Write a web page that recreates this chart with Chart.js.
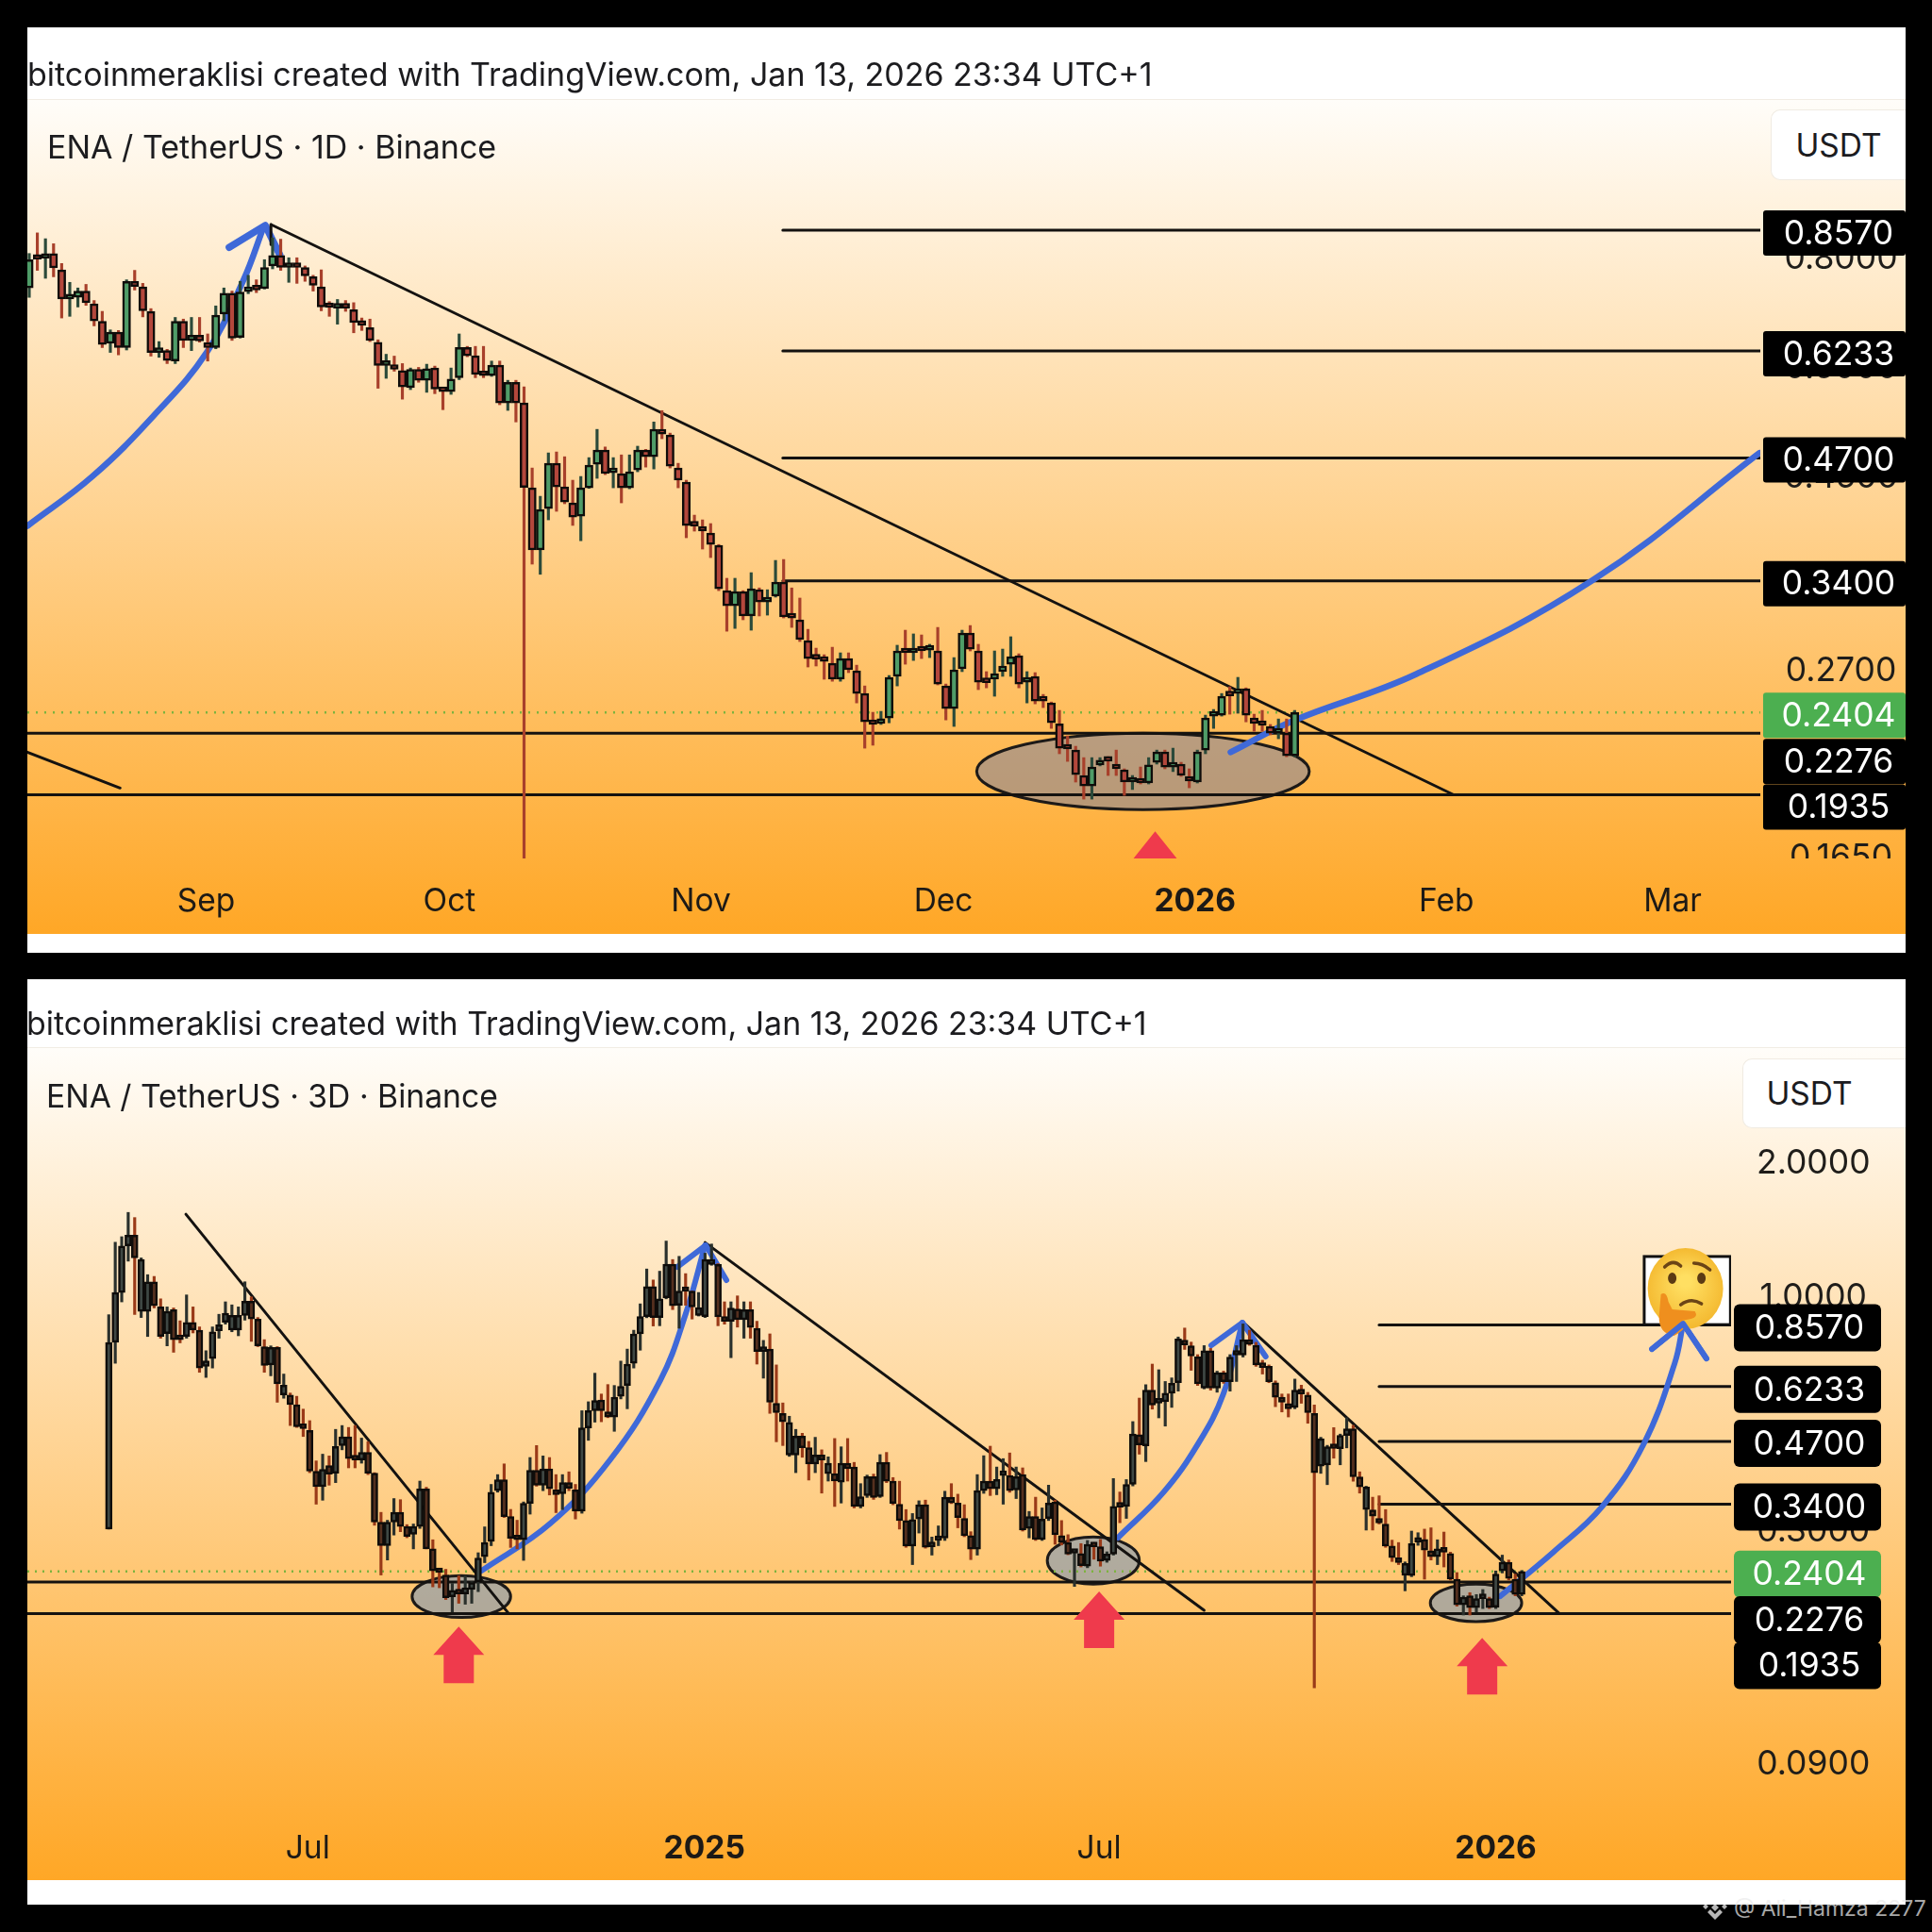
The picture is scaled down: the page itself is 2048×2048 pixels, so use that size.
<!DOCTYPE html>
<html><head><meta charset="utf-8">
<script src="https://cdn.jsdelivr.net/npm/chart.js@4/dist/chart.umd.min.js"></script>
<style>
html,body{margin:0;padding:0;background:#000;width:2048px;height:2048px;overflow:hidden;font-family:Inter,"Noto Sans",sans-serif}
.panel{position:absolute;left:29px;width:1991px;background:#fff}
.grad{position:absolute;left:29px;width:1991px;background:linear-gradient(180deg,#fffdf9 0%,#ffa726 100%);border-top:1px solid #f1ece4;box-sizing:border-box}
canvas{position:absolute;left:29px}
.t{position:absolute;color:#1c1c1f;white-space:nowrap;line-height:1;transform:translateY(-50%)}
.usdt{position:absolute;background:#fff;border:1px solid #f0ebe2;border-radius:10px 0 0 10px;box-sizing:border-box;display:flex;align-items:center;justify-content:center;font-size:33.5px;color:#1c1c1f;border-right:none}
</style></head><body>
<div class="panel" style="top:29px;height:981px"></div>
<div class="grad" style="top:105px;height:885px"></div>
<div class="panel" style="top:1038px;height:981px"></div>
<div class="grad" style="top:1110px;height:883px"></div>
<canvas id="c1" width="1991" height="961" style="top:29px;width:1991px;height:961px"></canvas>
<canvas id="c2" width="1991" height="955" style="top:1038px;width:1991px;height:955px"></canvas>
<div class="t" style="left:29px;top:79px;font-size:34px">bitcoinmeraklisi created with TradingView.com, Jan 13, 2026 23:34 UTC+1</div>
<div class="t" style="left:50px;top:156px;font-size:34px">ENA / TetherUS · 1D · Binance</div>
<div class="usdt" style="left:1877px;top:116px;width:143px;height:75px">USDT</div>
<div class="t" style="left:28px;top:1085px;font-size:33.87px">bitcoinmeraklisi created with TradingView.com, Jan 13, 2026 23:34 UTC+1</div>
<div class="t" style="left:49px;top:1162px;font-size:33.7px">ENA / TetherUS · 3D · Binance</div>
<div class="usdt" style="left:1847px;top:1122px;width:173px;height:74px;padding-right:32px">USDT</div>
<svg style="position:absolute;left:1804px;top:2008px" width="28" height="28" viewBox="0 0 28 28"><g fill="rgba(255,255,255,.72)"><path d="M14 1l5 5-5 5-5-5z" fill="none" stroke="rgba(255,255,255,.45)"/><path d="M14 10l4 4-4 4-4-4zM4 10l3 3-3 3-3-3zM24 10l3 3-3 3-3-3zM14 27l-8-8 3-3 5 5 5-5 3 3z"/></g></svg>
<div class="t" style="left:1838px;top:2023px;font-size:23px;color:rgba(235,235,235,.72)">@ Ali_Hamza 2277</div>
<script>
// ---- 1D chart: [open, high, low, close]
const dailyCandles=[
[.736,.806,.718,.793],[.797,.851,.771,.794],[.796,.838,.755,.804],[.806,.827,.758,.776],[.772,.785,.680,.715],[.715,.747,.683,.716],[.718,.736,.700,.730],[.730,.743,.703,.708],[.706,.712,.666,.675],[.674,.692,.629,.634],
[.636,.659,.621,.655],[.655,.658,.617,.629],[.629,.752,.625,.749],[.749,.771,.732,.739],[.738,.745,.682,.693],[.692,.697,.615,.621],[.621,.639,.613,.624],[.624,.626,.603,.608],[.607,.681,.603,.674],[.674,.678,.629,.641],
[.641,.681,.624,.650],[.650,.681,.638,.640],[.636,.652,.607,.629],[.629,.702,.627,.685],[.687,.736,.675,.726],[.726,.730,.641,.645],[.646,.749,.645,.728],[.729,.761,.725,.731],[.734,.752,.727,.732],[.735,.793,.734,.777],
[.780,.840,.774,.802],[.802,.837,.771,.777],[.777,.797,.747,.780],[.780,.797,.745,.777],[.777,.780,.749,.760],[.758,.761,.730,.741],[.738,.772,.693,.700],[.701,.710,.683,.699],[.698,.714,.669,.704],[.704,.712,.692,.698],
[.695,.708,.654,.672],[.669,.680,.658,.667],[.663,.678,.639,.641],[.638,.642,.565,.600],[.600,.618,.580,.602],[.600,.615,.591,.594],[.592,.603,.549,.567],[.566,.596,.563,.594],[.594,.597,.574,.577],[.577,.602,.559,.595],
[.596,.599,.557,.564],[.561,.565,.534,.560],[.560,.596,.556,.579],[.581,.652,.578,.629],[.629,.631,.614,.6155],[.6155,.631,.581,.586],[.586,.631,.581,.584],[.584,.607,.583,.6005],[.6005,.607,.541,.5436],[.5436,.577,.533,.574],
[.574,.577,.517,.5436],[.5436,.567,.15,.435],[.4346,.4579,.3554,.3689],[.3689,.425,.346,.4105],[.4115,.4765,.3994,.4637],[.4637,.4777,.4085,.4357],[.4357,.4717,.4167,.4187],[.4177,.4434,.3936,.4024],[.4034,.4478,.378,.4346],[.4346,.4706,.434,.4613],
[.4625,.507,.4456,.48],[.48,.484,.45,.4512],[.4523,.4706,.4346,.4534],[.4512,.474,.4177,.4346],[.4346,.474,.4335,.4534],[.4556,.485,.4534,.48],[.48,.481,.459,.4717],[.4717,.517,.4567,.507],[.507,.5327,.4946,.5008],[.4995,.502,.4579,.4602],
[.4579,.4636,.4346,.4434],[.4412,.4434,.381,.3935],[.3935,.4044,.3877,.393],[.3906,.3994,.3698,.3877],[.3858,.3955,.3616,.3743],[.3734,.3743,.3314,.333],[.3314,.3424,.2978,.3185],[.3185,.3424,.30,.3306],[.3306,.3314,.3069,.31],[.31,.3475,.2986,.333],
[.3322,.3338,.31,.3217],[.3217,.3322,.3107,.325],[.3266,.3589,.3258,.3389],[.3389,.3598,.3084,.3092],[.3092,.3338,.3008,.3084],[.3069,.325,.2898,.2913],[.2905,.2993,.271,.2771],[.2771,.2848,.2717,.2767],[.2757,.2799,.2624,.275],[.2737,.2855,.261,.2624],
[.2624,.2813,.261,.2771],[.2771,.2813,.267,.269],[.2683,.2723,.2465,.2527],[.2527,.2578,.2188,.2345],[.2345,.2405,.2205,.2329],[.2335,.2411,.2329,.2357],[.2369,.265,.2339,.2637],[.2644,.287,.2578,.2827],[.2827,.2986,.273,.2813],[.2813,.2957,.2757,.2834],
[.2841,.2949,.2771,.2827],[.2834,.2877,.2778,.2838],[.2827,.3008,.2585,.2591],[.2578,.2591,.2357,.2429],[.2429,.2778,.2317,.269],[.2697,.2986,.2677,.2964],[.2964,.3023,.2827,.2841],[.2827,.2877,.2553,.2604],[.2604,.2677,.2565,.26],[.2624,.2827,.2509,.2663],
[.2677,.2841,.2644,.2717],[.273,.2935,.2644,.2785],[.2792,.2806,.2565,.2591],[.2604,.2677,.2465,.2637],[.2644,.267,.2459,.2477],[.2483,.2521,.2435,.2477],[.2465,.2471,.2305,.2339],[.2333,.2417,.2156,.2188],[.2188,.226,.2113,.2183],[.2177,.2199,.2001,.2041],
[.2036,.2134,.1913,.1981],[.1981,.2134,.1913,.2082],[.2093,.2134,.2088,.2119],[.2119,.214,.2036,.2114],[.2098,.2177,.2036,.2072],[.2067,.2072,.1932,.2001],[.2001,.2036,.1962,.2006],[.2001,.2082,.1991,.1996],[.1996,.2134,.1991,.2093],[.2108,.2177,.2098,.2166],
[.2166,.2177,.2072,.2082],[.2082,.2188,.2057,.2088],[.2098,.2108,.2031,.2036],[.2031,.2072,.1971,.2006],[.2001,.2177,.1996,.2166],[.2177,.2387,.2156,.2369],[.2381,.2423,.2305,.2393],[.2387,.2527,.2381,.2509],[.2515,.2572,.2393,.2512],[.2527,.2637,.2399,.2559],
[.2559,.2565,.2345,.2387],[.2369,.2393,.2288,.2335],[.2329,.2417,.2288,.2323],[.2317,.2329,.2266,.2277],[.2277,.2363,.2243,.2283],[.2277,.2363,.2139,.2145],[.2145,.2417,.2139,.2404]];
// ---- 3D chart: [open, high, low, close]
const threeDayCandles=[
[.299,.903,.299,.783],[.783,1.312,.703,1.0127],[1.0127,1.35,.9646,1.287],[1.287,1.53,1.19,1.36],[1.36,1.49,.904,1.21],[.9188,1.21,.89,1.20],[.9188,1.11,.807,1.07],[1.07,1.10,.935,.945],[.94,.98,.80,.807],[.8195,.94,.769,.9188],
[.927,.935,.744,.794],[.807,.875,.781,.794],[.807,1.0,.80,.868],[.868,.94,.822,.834],[.834,.848,.671,.686],[.692,.75,.6535,.712],[.7204,.848,.686,.827],[.831,.905,.80,.857],[.868,.965,.86,.91],[.834,.95,.827,.90],
[.834,.94,.81,.90],[.90,1.07,.878,.968],[.968,.99,.787,.883],[.883,.89,.766,.769],[.766,.794,.671,.695],[.697,.769,.659,.763],[.763,.766,.575,.632],[.597,.665,.587,.628],[.597,.603,.51,.568],[.568,.593,.505,.507],
[.507,.555,.482,.502],[.4975,.523,.40,.403],[.403,.425,.34,.372],[.372,.44,.347,.407],[.415,.436,.375,.397],[.399,.50,.38,.458],[.46,.51,.45,.481],[.481,.505,.41,.43],[.43,.51,.41,.427],[.427,.478,.42,.444],
[.444,.469,.396,.399],[.399,.40,.305,.31],[.31,.326,.236,.2745],[.2745,.313,.255,.31],[.31,.35,.29,.326],[.326,.348,.295,.303],[.303,.306,.286,.288],[.291,.307,.27,.303],[.303,.383,.30,.368],[.368,.371,.27,.27],
[.27,.283,.222,.241],[.24,.244,.221,.239],[.236,.243,.208,.21],[.211,.226,.195,.218],[.218,.235,.204,.214],[.214,.235,.203,.221],[.219,.228,.204,.227],[.2278,.2647,.2166,.2576],[.2593,.3025,.2515,.279],[.2806,.3765,.2745,.3617],
[.3645,.396,.3617,.3858],[.3858,.4185,.3175,.319],[.319,.331,.272,.285],[.286,.313,.27,.283],[.283,.344,.2545,.3415],[.3415,.4325,.323,.405],[.405,.46,.373,.375],[.375,.436,.3645,.408],[.408,.4325,.3565,.368],[.366,.396,.3255,.357],
[.359,.396,.3307,.38],[.38,.4017,.3645,.369],[.366,.3765,.315,.328],[.328,.5505,.3245,.504],[.504,.5765,.4725,.5505],[.5505,.668,.519,.5805],[.582,.60,.52,.5505],[.5475,.63,.531,.533],[.533,.627,.495,.59],[.5929,.711,.585,.6245],
[.627,.7563,.556,.70],[.703,.8336,.686,.818],[.818,.955,.752,.894],[.894,1.143,.889,1.044],[1.044,1.08,.852,.89],[.89,1.13,.853,.98],[.985,1.32,.98,1.172],[1.172,1.2,.927,.945],[.948,1.22,.842,1.02],[1.026,1.116,.948,1.018],
[1.02,1.02,.883,.94],[.90,1.0127,.897,.937],[.894,1.24,.89,1.2],[1.17,1.30,1.165,1.2],[1.17,1.175,.853,.893],[.893,.965,.86,.873],[.873,.965,.7235,.934],[.93,.995,.847,.88],[.88,.965,.80,.927],[.927,.965,.80,.846],
[.842,.873,.70,.747],[.747,.791,.651,.7563],[.7563,.818,.543,.575],[.572,.697,.469,.545],[.543,.573,.46,.52],[.438,.535,.435,.518],[.438,.50,.40,.483],[.483,.49,.433,.455],[.455,.47,.385,.418],[.418,.48,.40,.438],
[.438,.45,.36,.427],[.398,.434,.383,.42],[.398,.477,.336,.383],[.381,.457,.342,.42],[.42,.477,.383,.408],[.4118,.4218,.3335,.336],[.336,.378,.3335,.3535],[.3555,.395,.352,.392],[.392,.397,.3485,.352],[.3535,.439,.352,.4218],
[.4218,.444,.38,.3827],[.3827,.39,.339,.3415],[.34,.3827,.299,.3125],[.3125,.3307,.2722,.274],[.274,.324,.249,.314],[.315,.346,.293,.339],[.339,.3472,.271,.2722],[.273,.287,.2615,.279],[.282,.304,.2745,.2855],[.2855,.3635,.282,.3525],
[.3525,.378,.341,.342],[.342,.358,.301,.3175],[.316,.339,.2875,.289],[.289,.295,.2555,.2695],[.2695,.396,.2615,.3645],[.3645,.4365,.3595,.3827],[.3827,.4585,.3555,.368],[.368,.4118,.357,.386],[.394,.43,.34,.396],[.394,.4428,.3615,.3645],
[.366,.4118,.35,.392],[.396,.41,.296,.2975],[.30,.3275,.2858,.319],[.319,.3525,.282,.2835],[.2835,.3335,.282,.315],[.316,.375,.3125,.342],[.344,.3472,.2765,.2905],[.289,.3125,.2755,.279],[.279,.2905,.262,.263],[.264,.268,.2225,.2645],
[.2635,.2775,.246,.2478],[.247,.282,.245,.2765],[.2755,.279,.256,.273],[.273,.2835,.247,.2535],[.2545,.266,.252,.263],[.263,.388,.2615,.336],[.337,.362,.309,.335],[.336,.386,.316,.3765],[.3765,.5205,.3735,.4881],[.4865,.5875,.44,.4615],
[.459,.6295,.4235,.6125],[.6125,.70,.555,.5665],[.5725,.68,.5305,.5745],[.5765,.64,.5085,.6025],[.6025,.652,.56,.6345],[.6365,.805,.609,.7965],[.79,.843,.755,.773],[.769,.784,.678,.73],[.727,.735,.627,.632],[.6185,.77,.616,.75],
[.75,.759,.612,.6185],[.6185,.675,.6055,.6695],[.6695,.675,.634,.639],[.639,.735,.609,.726],[.733,.77,.64,.75],[.733,.861,.726,.794],[.794,.8336,.771,.775],[.771,.783,.692,.697],[.695,.714,.665,.688],[.692,.697,.636,.639],
[.636,.642,.562,.59],[.59,.60,.547,.575],[.571,.60,.533,.556],[.56,.648,.556,.612],[.612,.628,.572,.60],[.597,.605,.516,.545],[.5425,.567,.132,.40],[.4135,.48,.3985,.4763],[.4163,.4605,.376,.4575],[.455,.5045,.431,.453],
[.4525,.488,.4165,.4845],[.4845,.531,.4545,.5015],[.5015,.5105,.3827,.3915],[.3915,.4017,.36,.3715],[.3307,.373,.2975,.3715],[.33,.3525,.2975,.3195],[.316,.355,.307,.3085],[.307,.3307,.2722,.274],[.274,.2825,.253,.258],[.258,.279,.249,.2515],
[.2355,.2525,.2175,.2505],[.2352,.296,.234,.2775],[.2795,.2935,.275,.2835],[.2835,.299,.231,.2685],[.2675,.301,.255,.2593],[.2593,.283,.249,.27],[.27,.2945,.246,.2655],[.2635,.2655,.23,.231],[.231,.239,.201,.2025],[.2025,.212,.192,.2105],
[.212,.2155,.192,.1995],[.1995,.2134,.195,.209],[.209,.219,.1985,.2105],[.209,.2105,.1985,.1995],[.20,.241,.1985,.2372],[.241,.2615,.2385,.252],[.252,.255,.23,.232],[.231,.237,.212,.2134],[.2134,.2415,.212,.2404]];

// ---- shared price levels
const resistanceLevels=[.857,.6233,.47,.34];
const supportLevels=[.2276,.1935];
const lastPrice=.2404;
const levelLabels=[.857,.6233,.47,.34,.2404,.2276,.1935];

// ---- axis labels
const dailyPriceTicks=[.8,.6,.45,.27,.165];
const dailyDateTicks=[21.8,51.8,82.8,112.7,143.7,174.7,202.6];
const dailyDateLabels=["Sep","Oct","Nov","Dec","2026","Feb","Mar"];
const threeDayPriceTicks=[2,1,.3,.09];
const threeDayDateTicks=[30.7,91.9,152.8,214];
const threeDayDateLabels=["Jul","2025","Jul","2026"];

// ---- drawings: [candle index, price]
const dailyTrend=[[29.8,.87],[175.6,.1935]];
const dailyTrendStub=[[-.23,.2165],[11.2,.197]];
const dailyPeakTick=[[29.8,.87],[29.8,.825]];
const dailyRiseCurve=[[-.23,.393],[7.8,.448],[15.4,.5263],[21.9,.6215],[26.4,.751],[28.9,.865]];
const dailyRiseHead=[[24.65,.819],[29.1,.868],[30.9,.803]];
const dailyForecast=[[148.1,.2165],[155.9,.2353],[171,.266],[192.6,.34],[213.3,.4765]];
const dailyZone=[116.8,157.8,.2276,.1861];
const dailyMarker=[138.8,.1757];

const threeDayTrends=[[[11.9,1.516],[61.7,.1935]],[[92,1.31],[169,.1967]],[[175.1,.8668],[223.8,.1935]]];
const threeDayCurves=[
 [[57.5,.2412],[68.1,.3076],[77.4,.4283],[85.1,.644],[89,.906],[92,1.2915]],
 [[155.7,.286],[162.7,.361],[168.1,.465],[172,.602],[174.9,.8668]],
 [[214.7,.2116],[222.9,.2658],[230.4,.3358],[236.8,.463],[241.6,.703],[242.9,.8624]]];
const threeDayHeads=[
 [[87.7,1.155],[92.1,1.2915],[95.3,1.079]],
 [[170.1,.771],[174.9,.8668],[178.5,.7276]],
 [[238.1,.7565],[242.9,.8624],[246.5,.7204]]];
const threeDayZones=[[46.8,62,.2352,.1897],[144.8,159,.287,.2252],[203.9,218,.2252,.1855]];
const threeDayMarkers=[[54,.181],[152.8,.2167],[211.9,.1707]];
const thinkingBox=[236.9,250.2,1.219,.858];

Chart.defaults.font.family='Inter, "Noto Sans", sans-serif';
const toPts=a=>a.map(p=>({x:p[0],y:p[1]}));
const INK='#141210', BLUE='#3f69d8', MARK='#ef3a4c', DOT='#7db33f';

function lineDs(pts,color,width,extra){return Object.assign({type:'line',data:toPts(pts),borderColor:color,borderWidth:width,pointRadius:0,tension:0,order:30,borderCapStyle:'round',borderJoinStyle:'round',fill:false},extra||{});}
const smooth={tension:.4};

function candleDs(rows,st){
  const up=r=>r[3]>=r[0];
  return [
   {type:'bar',data:rows.map((r,i)=>({x:i,y:[r[2],r[1]]})),backgroundColor:rows.map(r=>up(r)?st.wickUp:st.wickDown),borderWidth:0,barThickness:2.5,grouped:false,order:20},
   {type:'bar',data:rows.map((r,i)=>({x:i,y:[Math.min(r[0],r[3]),Math.max(r[0],r[3])]})),backgroundColor:rows.map(r=>up(r)?st.up:st.down),borderColor:st.edge,borderWidth:2.5,borderSkipped:false,barThickness:st.width,minBarLength:5,grouped:false,order:10}
  ];
}

function pill(ctx,x,y,w,h,r,c){ctx.fillStyle=c;ctx.beginPath();ctx.roundRect(x,y,w,h,r);ctx.fill();}

function overlay(cfg){let shifted=false;return {id:'overlay',
 beforeDraw(ch){if(shifted)return;shifted=true;ch.scales.y.getLabelItems(ch.chartArea).forEach(it=>{const t=it.options.translation;it.options.translation=[t[0],t[1]+3];});},
 beforeDatasetsDraw(ch){const {ctx,scales:{x,y}}=ch;ctx.save();
   ctx.beginPath();ctx.rect(ch.chartArea.left,ch.chartArea.top,ch.chartArea.width,ch.chartArea.height);ctx.clip();
   cfg.zones.forEach(z=>{const x0=x.getPixelForValue(z[0]),x1=x.getPixelForValue(z[1]),y0=y.getPixelForValue(z[2]),y1=y.getPixelForValue(z[3]);
     ctx.beginPath();ctx.ellipse((x0+x1)/2,(y0+y1)/2,(x1-x0)/2,(y1-y0)/2,0,0,Math.PI*2);ctx.fillStyle=cfg.zoneFill;ctx.fill();ctx.lineWidth=3;ctx.strokeStyle='#1d1a18';ctx.stroke();});
   ctx.restore();},
 afterDatasetsDraw(ch){const {ctx,scales:{x,y}}=ch;ctx.save();
   ctx.beginPath();ctx.rect(ch.chartArea.left,ch.chartArea.top,ch.chartArea.width,ch.chartArea.height);ctx.clip();
   ctx.fillStyle=MARK;
   cfg.markers.forEach(m=>{const px=x.getPixelForValue(m[0]),py=y.getPixelForValue(m[1]);ctx.beginPath();
     if(cfg.shaft){ctx.moveTo(px,py);ctx.lineTo(px+27,py+30);ctx.lineTo(px+16,py+30);ctx.lineTo(px+16,py+60);ctx.lineTo(px-16,py+60);ctx.lineTo(px-16,py+30);ctx.lineTo(px-27,py+30);}
     else{ctx.moveTo(px,py);ctx.lineTo(px+24,py+30);ctx.lineTo(px-24,py+30);}
     ctx.closePath();ctx.fill();});
   if(cfg.box){const b=cfg.box,bx0=x.getPixelForValue(b[0]),bx1=x.getPixelForValue(b[1]),by0=y.getPixelForValue(b[2]),by1=y.getPixelForValue(b[3]);
     ctx.fillStyle='#fff';ctx.fillRect(bx0,by0,bx1-bx0,by1-by0);ctx.strokeStyle='#111';ctx.lineWidth=3;ctx.strokeRect(bx0,by0,bx1-bx0,by1-by0);
     const cx=(bx0+bx1)/2-2,cy=(by0+by1)/2-2;
     const g=ctx.createRadialGradient(cx,cy-8,6,cx,cy,46);g.addColorStop(0,'#ffdf62');g.addColorStop(1,'#f3b62c');ctx.fillStyle=g;ctx.beginPath();ctx.ellipse(cx,cy,40,43,0,0,Math.PI*2);ctx.fill();
     ctx.fillStyle='#5b3a14';ctx.beginPath();ctx.ellipse(cx-14,cy-11,4.5,6,0,0,Math.PI*2);ctx.ellipse(cx+17,cy-11,4.5,6,0,0,Math.PI*2);ctx.fill();
     ctx.strokeStyle='#6b4416';ctx.lineWidth=3.5;ctx.lineCap='round';ctx.beginPath();ctx.moveTo(cx-22,cy-23);ctx.quadraticCurveTo(cx-13,cy-32,cx-5,cy-24);ctx.moveTo(cx+9,cy-27);ctx.quadraticCurveTo(cx+18,cy-27,cx+26,cy-20);ctx.moveTo(cx-5,cy+17);ctx.quadraticCurveTo(cx+6,cy+9,cx+17,cy+16);ctx.stroke();
     ctx.fillStyle='#ef8f1e';ctx.beginPath();ctx.moveTo(cx-26,cy+6);ctx.quadraticCurveTo(cx-20,cy+2,cx-18,cy+14);ctx.lineTo(cx-14,cy+22);ctx.lineTo(cx+10,cy+24);ctx.quadraticCurveTo(cx+14,cy+30,cx+6,cy+32);ctx.lineTo(cx-4,cy+34);ctx.quadraticCurveTo(cx+6,cy+40,cx-12,cy+50);ctx.quadraticCurveTo(cx-28,cy+48,cx-28,cy+30);ctx.closePath();ctx.fill();}
   ctx.restore();
   if(cfg.afterBox){ctx.save();ctx.strokeStyle=BLUE;ctx.lineWidth=6;ctx.lineCap='round';ctx.lineJoin='round';ctx.beginPath();cfg.afterBox.forEach((p,i)=>{const px=x.getPixelForValue(p[0]),py=y.getPixelForValue(p[1]);i?ctx.lineTo(px,py):ctx.moveTo(px,py);});ctx.stroke();ctx.restore();}
 },
 afterDraw(ch){const {ctx,scales:{y}}=ch;
   ctx.clearRect(y.left,y.bottom,y.width,24);
   ctx.save();ctx.font='35.5px Inter, "Noto Sans", sans-serif';ctx.textAlign='center';ctx.textBaseline='middle';
   levelLabels.forEach((v,i)=>{const c=y.getPixelForValue(v)+cfg.labelShift[i];
     pill(ctx,cfg.boxX,c-cfg.boxH/2,cfg.boxW,cfg.boxH,cfg.boxR,v===lastPrice?'#4caf50':'#000');
     ctx.fillStyle='#fff';ctx.fillText(v.toFixed(4),cfg.textX,c+1);});
   ctx.restore();}
};}

function axes(cfg){return {
 x:{type:'linear',position:'bottom',min:cfg.xMin,max:cfg.xMax,offset:false,grid:{display:false,drawTicks:false},border:{display:false},
    afterBuildTicks:s=>{s.ticks=cfg.xTicks.map(v=>({value:v}));},
    afterFit:s=>{s.height=cfg.xH;},
    ticks:{autoSkip:false,maxRotation:0,minRotation:0,padding:cfg.xPad,color:'#1d1a16',callback:(v,i)=>cfg.xLabels[i],
      font:c=>({size:33.5,weight:/^20/.test(cfg.xLabels[c.index]||'')?'700':'400'})}},
 y:{type:'logarithmic',position:'right',min:cfg.yMin,max:cfg.yMax,grid:{display:false,drawTicks:false},border:{display:false},
    afterBuildTicks:s=>{s.ticks=cfg.yTicks.map(v=>({value:v}));},
    afterFit:s=>{s.width=cfg.yW;},
    ticks:{autoSkip:false,crossAlign:'center',padding:cfg.yPad,color:'#1f1d1a',font:{size:35.5},callback:v=>Number(v).toFixed(4)}}
};}

const common={responsive:false,animation:false,devicePixelRatio:1,normalized:false,
  plugins:{legend:{display:false},tooltip:{enabled:false},title:{display:false}}};

// ---- 1D
const ax1=[-.23,213.4];
new Chart(document.getElementById('c1'),{type:'bar',
 data:{datasets:[
  ...candleDs(dailyCandles,{up:'#4f9c68',down:'#b4473c',wickUp:'#2b4a3a',wickDown:'#a8402b',edge:'#0e0c0a',width:8.5}),
  ...resistanceLevels.map(v=>lineDs([[92.9,v],[ax1[1],v]],INK,3)),
  ...supportLevels.map(v=>lineDs([[ax1[0],v],[ax1[1],v]],INK,3)),
  lineDs([[ax1[0],lastPrice],[ax1[1],lastPrice]],DOT,2.5,{borderDash:[2,7],borderCapStyle:'butt',order:31}),
  lineDs(dailyTrend,INK,3),lineDs(dailyTrendStub,INK,3),lineDs(dailyPeakTick,INK,3),
  lineDs(dailyRiseCurve,BLUE,6.5,Object.assign({order:35},smooth)),lineDs(dailyRiseHead,BLUE,7.5,{order:35}),
  lineDs(dailyForecast,BLUE,6.5,Object.assign({order:29},smooth))
 ]},
 options:Object.assign({},common,{layout:{padding:{top:76,left:0,right:0,bottom:0}},scales:axes({xMin:ax1[0],xMax:ax1[1],xTicks:dailyDateTicks,xLabels:dailyDateLabels,xH:80,xPad:26,yMin:.1636,yMax:1.211,yTicks:dailyPriceTicks,yW:154,yPad:25})}),
 plugins:[overlay({zones:[dailyZone],zoneFill:'rgba(115,125,165,.5)',markers:[dailyMarker],shaft:false,labelShift:[3,3,2,3,3,30,13],boxX:1840,boxW:151,boxH:48,boxR:3,textX:1920})]
});

// ---- 3D
const ax2=[-12.56,250.3];
new Chart(document.getElementById('c2'),{type:'bar',
 data:{datasets:[
  ...candleDs(threeDayCandles,{up:'#3f4844',down:'#55301f',wickUp:'#2a302c',wickDown:'#9a3a18',edge:'#0e0c0a',width:7}),
  ...resistanceLevels.map(v=>lineDs([[196,v],[ax2[1],v]],INK,3)),
  ...supportLevels.map(v=>lineDs([[ax2[0],v],[ax2[1],v]],INK,3)),
  lineDs([[ax2[0],lastPrice],[ax2[1],lastPrice]],DOT,2.5,{borderDash:[2,6],borderCapStyle:'butt',order:31}),
  ...threeDayTrends.map(t=>lineDs(t,INK,3)),
  ...threeDayCurves.map(c=>lineDs(c,BLUE,6,Object.assign({order:29},smooth))),
  ...threeDayHeads.map(h=>lineDs(h,BLUE,6,{order:29}))
 ]},
 options:Object.assign({},common,{layout:{padding:{top:72,left:0,right:0,bottom:0}},scales:axes({xMin:ax2[0],xMax:ax2[1],xTicks:threeDayDateTicks,xLabels:threeDayDateLabels,xH:77,xPad:24,yMin:.0712,yMax:3.587,yTicks:threeDayPriceTicks,yW:185,yPad:27})}),
 plugins:[overlay({zones:threeDayZones,zoneFill:'rgba(134,155,180,.65)',markers:threeDayMarkers,shaft:true,labelShift:[3,3,2,3,3,40,55],boxX:1809,boxW:156,boxH:50,boxR:6,textX:1889,box:thinkingBox,afterBox:threeDayHeads[2]})]
});
</script>
</body></html>
